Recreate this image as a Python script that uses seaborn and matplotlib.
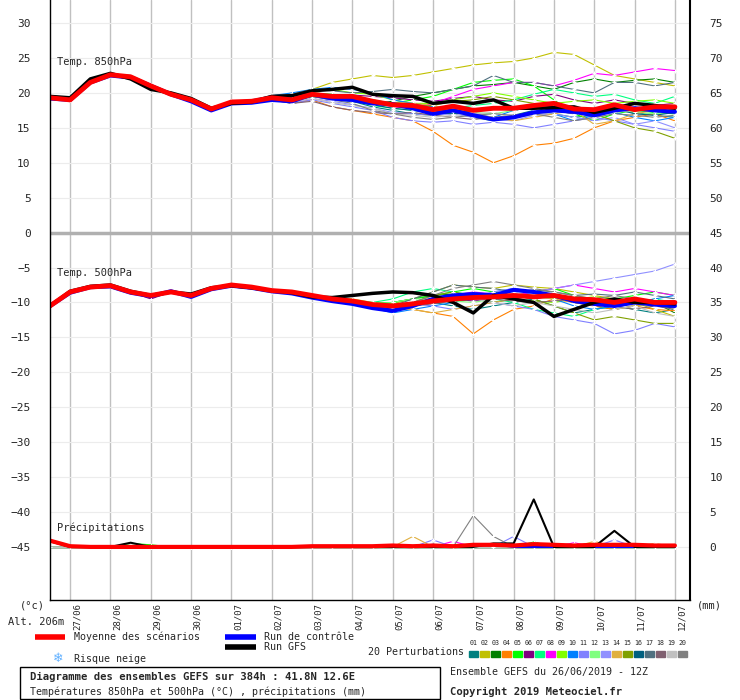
import matplotlib
matplotlib.use("Agg")
import matplotlib.pyplot as plt
import seaborn as sns
import numpy as np

hours = list(range(0, 384, 12))
dates = ["27/06", "28/06", "29/06", "30/06", "01/07", "02/07", "03/07", "04/07",
         "05/07", "06/07", "07/07", "08/07", "09/07", "10/07", "11/07", "12/07"]
date_hours = list(range(12, 384, 24))

mean850 = [19.3,19.0,21.5,22.6,22.3,21.0,19.8,19.0,17.7,18.7,18.8,19.3,19.0,19.8,19.5,19.5,
           18.8,18.3,18.2,17.6,18.1,17.5,17.8,17.8,18.2,18.5,17.7,17.6,18.3,17.6,18.0,18.0]
ctrl850 = [19.2,19.0,21.5,22.5,22.2,21.0,19.8,18.8,17.5,18.5,18.6,19.0,18.8,19.8,19.2,19.0,
           18.5,18.4,17.8,17.0,17.5,16.8,16.2,16.5,17.2,17.5,17.3,16.8,17.5,17.8,17.5,17.3]
gfs850 = [19.5,19.3,22.0,22.8,22.0,20.5,20.0,19.2,17.8,18.5,18.7,19.5,19.6,20.3,20.5,20.8,
          19.8,19.6,19.5,18.5,18.8,18.5,19.0,17.8,17.8,17.9,18.0,17.2,17.8,18.5,18.2,17.8]

mean500 = [-10.5,-8.5,-7.8,-7.6,-8.5,-9.0,-8.5,-9.0,-8.0,-7.5,-7.8,-8.3,-8.5,-9.0,-9.5,-9.8,
           -10.3,-10.5,-10.2,-9.8,-9.5,-9.3,-9.2,-9.0,-9.2,-9.0,-9.5,-9.6,-10.0,-9.5,-10.0,-10.0]
ctrl500 = [-10.5,-8.6,-7.8,-7.7,-8.6,-9.1,-8.4,-9.2,-8.1,-7.6,-7.9,-8.4,-8.7,-9.3,-9.8,-10.2,
           -10.8,-11.2,-10.5,-9.5,-9.0,-8.8,-9.0,-8.2,-8.5,-9.0,-9.8,-10.2,-10.5,-10.0,-10.3,-10.5]
gfs500 = [-10.5,-8.4,-7.7,-7.5,-8.4,-9.0,-8.5,-8.8,-7.9,-7.6,-7.9,-8.3,-8.6,-9.2,-9.3,-9.0,
          -8.7,-8.5,-8.6,-9.0,-10.0,-11.5,-9.0,-9.5,-10.0,-12.0,-11.0,-10.0,-9.5,-10.0,-10.0,-10.2]

pert_colors = ["#008080", "#c0c000", "#008000", "#ff8000", "#00ff00", "#800080", "#00ff80",
               "#ff00ff", "#80ff00", "#0080ff", "#8080ff", "#80ff80", "#9090ff", "#e0b040",
               "#80a000", "#006080", "#507080", "#806070", "#c0c0c0", "#808080"]

pert850 = [
    [19.2,19.1,21.6,22.4,22.0,20.8,19.6,19.2,17.5,18.5,18.9,19.0,18.6,19.5,19.0,18.8,18.0,17.5,17.0,16.8,17.2,16.5,16.0,16.8,17.5,17.0,16.5,16.8,17.5,17.2,16.8,16.5],
    [19.3,19.0,21.4,22.7,22.5,21.2,20.0,19.1,17.8,18.8,18.9,19.5,19.8,20.5,21.5,22.0,22.5,22.2,22.5,23.0,23.5,24.0,24.3,24.5,25.0,25.8,25.5,24.0,22.5,22.0,21.5,21.0],
    [19.2,19.0,21.6,22.5,22.4,21.0,19.7,19.1,17.6,18.6,18.7,19.2,18.9,19.6,19.2,19.3,18.5,18.8,19.5,20.0,20.5,21.0,21.2,21.5,21.0,20.5,21.5,22.0,21.5,21.8,22.0,21.5],
    [19.3,19.0,21.5,22.6,22.2,20.9,19.8,19.0,17.6,18.7,18.8,19.1,18.5,19.0,18.0,17.5,17.0,16.5,16.0,14.5,12.5,11.5,10.0,11.0,12.5,12.8,13.5,15.0,16.0,16.5,17.0,16.0],
    [19.2,19.1,21.4,22.5,22.3,21.1,19.9,19.1,17.7,18.8,18.9,19.3,19.2,20.0,19.8,19.5,19.0,18.5,19.0,19.5,20.5,21.5,21.8,22.0,21.0,19.0,17.0,16.0,17.0,17.5,17.2,17.0],
    [19.3,19.0,21.5,22.7,22.2,21.0,19.8,18.9,17.8,18.7,18.7,19.4,19.3,20.0,19.5,19.7,19.5,19.3,19.0,18.8,19.2,19.5,19.0,18.8,19.5,19.8,19.0,18.5,19.0,18.5,18.2,18.5],
    [19.2,19.0,21.5,22.6,22.3,21.0,19.6,19.0,17.7,18.6,18.8,19.2,18.8,19.5,19.3,19.0,18.2,17.8,17.5,17.2,17.8,18.2,18.5,19.0,19.8,20.5,20.0,19.5,19.8,19.0,18.5,19.5],
    [19.3,19.1,21.6,22.6,22.3,21.0,19.8,19.0,17.6,18.7,18.8,19.2,19.0,19.7,19.4,19.2,18.6,18.0,17.8,18.5,19.5,20.5,21.0,21.5,21.5,21.0,21.8,22.8,22.5,23.0,23.5,23.2],
    [19.2,19.0,21.5,22.6,22.3,21.0,19.9,19.1,17.7,18.8,18.9,19.5,19.5,20.3,20.5,20.0,19.8,19.0,18.5,18.5,19.0,19.5,20.0,19.5,19.0,18.5,18.8,19.0,18.5,18.8,19.0,18.5],
    [19.3,19.0,21.5,22.7,22.5,21.2,20.0,19.0,17.8,18.8,19.0,19.6,20.0,20.5,20.8,20.5,20.0,19.0,18.5,18.0,17.8,17.0,16.5,17.5,18.0,17.0,16.0,16.8,17.2,16.5,16.0,16.5],
    [19.2,19.0,21.5,22.5,22.2,20.9,19.7,19.0,17.6,18.6,18.7,19.0,18.5,19.0,18.5,18.0,17.5,16.5,16.0,15.8,16.0,15.5,15.8,15.5,15.0,15.5,16.0,16.5,16.0,15.5,15.0,14.5],
    [19.3,19.0,21.5,22.6,22.3,21.0,19.8,19.0,17.7,18.7,18.8,19.3,19.1,19.8,19.6,19.4,19.0,18.5,18.0,17.5,17.8,17.2,17.0,17.5,18.0,18.5,18.0,17.5,17.8,17.2,17.0,17.5],
    [19.2,19.0,21.4,22.5,22.2,21.0,19.7,18.9,17.6,18.6,18.7,19.0,18.7,19.2,18.8,18.3,17.8,17.2,17.0,16.8,17.0,16.5,16.2,16.0,16.8,17.0,16.5,16.0,16.5,15.5,16.0,15.0],
    [19.3,19.1,21.6,22.7,22.4,21.1,19.9,19.0,17.7,18.8,18.9,19.4,19.2,19.9,19.5,19.3,18.8,18.6,18.5,18.2,17.5,17.0,16.5,16.0,16.5,17.0,17.5,15.5,16.0,17.0,17.5,17.8],
    [19.2,19.0,21.5,22.6,22.3,21.0,19.8,19.1,17.8,18.7,18.9,19.3,19.0,19.7,19.2,19.0,18.5,18.2,18.0,18.2,18.8,19.0,19.5,19.0,18.5,18.0,17.5,17.0,16.0,15.0,14.5,13.5],
    [19.3,19.0,21.5,22.6,22.3,21.0,19.8,19.0,17.7,18.7,18.8,19.2,18.9,19.5,19.2,18.8,18.3,17.8,17.5,17.2,17.0,17.5,17.8,17.5,18.0,17.5,17.0,17.2,17.8,17.0,16.8,17.2],
    [19.2,19.0,21.5,22.6,22.3,21.0,19.8,19.0,17.7,18.7,18.8,19.6,19.8,20.5,20.3,20.0,20.2,20.5,20.2,20.0,20.5,21.0,22.5,21.5,21.5,21.0,20.5,20.0,21.5,21.5,21.0,21.5],
    [19.3,19.0,21.5,22.6,22.3,21.0,19.8,19.0,17.7,18.6,18.7,19.0,18.5,18.8,18.0,17.5,17.2,17.0,17.2,16.8,16.5,16.2,16.5,16.8,17.2,17.5,17.0,17.5,18.0,17.5,17.5,18.0],
    [19.2,19.0,21.5,22.6,22.3,21.0,19.8,19.0,17.7,18.7,18.8,19.1,18.8,19.2,18.6,18.2,17.8,17.0,16.8,16.5,16.8,17.0,17.2,16.5,16.8,17.2,17.5,17.0,17.2,17.5,17.8,17.5],
    [19.3,19.0,21.5,22.6,22.3,21.0,19.8,19.0,17.7,18.7,18.8,19.2,19.0,19.5,19.0,18.5,17.5,17.0,16.5,16.2,16.5,16.8,17.0,16.8,17.0,16.5,16.0,16.5,17.0,16.8,16.5,16.8],
]

pert500 = [
    [-10.5,-8.5,-7.9,-7.5,-8.6,-9.2,-8.4,-9.1,-8.0,-7.5,-7.9,-8.5,-8.8,-9.2,-9.8,-10.0,-10.5,-10.8,-10.5,-10.0,-10.5,-11.0,-10.5,-10.0,-9.5,-10.5,-11.5,-11.0,-10.5,-11.0,-11.5,-11.0],
    [-10.5,-8.5,-7.8,-7.6,-8.4,-8.9,-8.6,-9.0,-7.9,-7.5,-7.8,-8.2,-8.4,-9.0,-9.3,-9.5,-10.0,-10.2,-9.5,-8.5,-7.5,-7.8,-8.0,-7.5,-7.8,-8.0,-8.5,-9.0,-9.5,-10.0,-11.0,-12.0],
    [-10.5,-8.6,-7.8,-7.6,-8.5,-9.0,-8.5,-9.0,-8.0,-7.6,-7.8,-8.3,-8.5,-9.0,-9.5,-9.8,-10.2,-10.0,-9.5,-9.0,-8.8,-9.5,-10.0,-9.5,-9.0,-9.2,-10.0,-10.5,-11.0,-10.5,-10.0,-11.5],
    [-10.5,-8.5,-7.8,-7.5,-8.5,-9.0,-8.5,-9.0,-8.0,-7.5,-7.8,-8.4,-8.6,-9.1,-9.6,-9.9,-10.4,-10.6,-11.0,-11.5,-12.0,-14.5,-12.5,-11.0,-10.5,-9.5,-10.0,-10.5,-11.0,-10.5,-11.0,-11.2],
    [-10.5,-8.4,-7.7,-7.6,-8.4,-9.1,-8.5,-9.0,-7.9,-7.5,-7.7,-8.2,-8.5,-9.0,-9.5,-9.8,-10.2,-10.0,-9.5,-9.0,-8.5,-8.0,-8.5,-9.0,-8.5,-8.0,-9.0,-10.0,-9.5,-9.0,-8.5,-9.0],
    [-10.5,-8.5,-7.8,-7.6,-8.5,-9.5,-8.5,-9.0,-8.0,-7.5,-7.8,-8.3,-8.5,-9.0,-9.5,-10.0,-10.5,-11.0,-10.5,-10.0,-9.5,-9.8,-9.5,-9.0,-9.5,-9.0,-9.5,-9.8,-10.0,-9.5,-9.8,-10.0],
    [-10.5,-8.5,-7.8,-7.6,-8.5,-9.0,-8.4,-8.9,-8.1,-7.6,-7.9,-8.3,-8.6,-9.1,-9.5,-9.8,-10.0,-9.5,-8.5,-8.0,-8.5,-9.0,-9.5,-10.0,-11.0,-11.5,-12.0,-11.0,-10.5,-10.0,-9.5,-10.0],
    [-10.5,-8.5,-7.8,-7.6,-8.5,-9.0,-8.5,-9.0,-8.0,-7.5,-7.8,-8.3,-8.5,-9.0,-9.5,-9.8,-10.3,-10.5,-10.0,-9.5,-9.0,-8.5,-8.8,-9.0,-8.5,-8.0,-7.5,-8.0,-8.5,-8.0,-8.5,-9.0],
    [-10.5,-8.5,-7.8,-7.6,-8.5,-9.0,-8.5,-9.0,-8.0,-7.6,-7.8,-8.3,-8.5,-9.0,-9.5,-9.8,-10.3,-10.4,-10.0,-9.5,-9.2,-9.0,-9.2,-9.5,-9.8,-10.0,-9.5,-9.2,-9.5,-9.8,-10.2,-10.5],
    [-10.5,-8.5,-7.8,-7.6,-8.5,-9.0,-8.5,-9.0,-8.0,-7.5,-7.8,-8.3,-8.5,-9.0,-9.6,-10.0,-10.8,-11.5,-11.0,-10.5,-10.0,-9.5,-8.5,-8.0,-8.5,-9.5,-10.5,-11.0,-10.5,-10.0,-9.5,-9.0],
    [-10.5,-8.5,-7.8,-7.6,-8.5,-9.0,-8.5,-9.0,-8.0,-7.5,-7.8,-8.3,-8.5,-9.0,-9.5,-9.8,-10.3,-10.5,-10.2,-10.5,-11.0,-10.5,-10.0,-10.5,-11.0,-12.0,-12.5,-13.0,-14.5,-14.0,-13.0,-13.5],
    [-10.5,-8.5,-7.8,-7.6,-8.5,-9.0,-8.5,-9.0,-8.0,-7.5,-7.8,-8.3,-8.5,-9.0,-9.5,-9.8,-10.2,-10.0,-9.5,-9.5,-9.8,-10.0,-9.5,-9.0,-9.2,-9.5,-9.0,-9.5,-10.0,-9.5,-10.0,-10.5],
    [-10.5,-8.5,-7.8,-7.6,-8.5,-9.0,-8.5,-9.0,-8.0,-7.5,-7.8,-8.3,-8.5,-9.0,-9.5,-9.8,-10.3,-10.5,-10.5,-10.0,-9.5,-9.0,-8.5,-8.0,-8.5,-8.0,-7.5,-7.0,-6.5,-6.0,-5.5,-4.5],
    [-10.5,-8.5,-7.8,-7.6,-8.5,-9.0,-8.5,-9.0,-8.0,-7.5,-7.8,-8.3,-8.5,-9.0,-9.5,-9.8,-10.3,-10.8,-11.0,-11.5,-11.0,-10.5,-10.0,-9.5,-9.0,-9.5,-10.0,-10.2,-9.8,-10.5,-10.0,-10.5],
    [-10.5,-8.5,-7.8,-7.6,-8.5,-9.0,-8.5,-9.0,-8.0,-7.5,-7.8,-8.3,-8.5,-9.0,-9.5,-9.8,-10.3,-10.5,-10.0,-9.0,-8.5,-9.0,-9.5,-9.0,-9.5,-10.5,-11.5,-12.5,-12.0,-12.5,-13.0,-13.0],
    [-10.5,-8.5,-7.8,-7.6,-8.5,-9.0,-8.5,-9.0,-8.0,-7.5,-7.8,-8.3,-8.5,-9.0,-9.5,-9.8,-10.3,-10.5,-10.2,-10.0,-9.8,-9.5,-9.0,-8.8,-9.0,-9.2,-9.5,-9.8,-10.2,-10.0,-10.5,-10.8],
    [-10.5,-8.5,-7.8,-7.6,-8.5,-9.0,-8.5,-9.0,-8.0,-7.5,-7.8,-8.3,-8.5,-9.0,-9.5,-9.8,-10.3,-10.5,-9.5,-8.5,-7.5,-7.8,-8.0,-8.5,-8.2,-8.5,-9.0,-8.8,-9.0,-8.5,-9.0,-9.5],
    [-10.5,-8.5,-7.8,-7.6,-8.5,-9.0,-8.5,-9.0,-8.0,-7.5,-7.8,-8.3,-8.5,-9.0,-9.5,-9.8,-10.3,-10.5,-10.5,-10.2,-9.8,-9.5,-9.5,-9.8,-10.0,-9.8,-9.5,-10.0,-10.5,-11.0,-10.5,-11.0],
    [-10.5,-8.5,-7.8,-7.6,-8.5,-9.0,-8.5,-9.0,-8.0,-7.5,-7.8,-8.3,-8.5,-9.0,-9.5,-9.8,-10.3,-10.5,-10.0,-9.5,-9.0,-9.5,-10.0,-10.5,-10.0,-10.5,-11.0,-11.5,-11.0,-10.5,-11.5,-12.0],
    [-10.5,-8.5,-7.8,-7.6,-8.5,-9.0,-8.5,-9.0,-8.0,-7.5,-7.8,-8.3,-8.5,-9.0,-9.5,-9.8,-10.3,-10.5,-10.0,-9.0,-8.0,-7.5,-7.0,-7.5,-8.0,-8.5,-9.0,-9.5,-9.0,-9.5,-10.0,-10.5],
]

# precipitation (mm), zeros for dry members
precip_mean = [0.9,0.1,0,0,0,0,0,0,0,0,0,0,0,0.1,0.1,0.1,0.1,0.2,0.1,0.2,0.1,0.3,0.3,0.2,0.4,0.3,0.2,0.3,0.3,0.3,0.2,0.2]
precip_ctrl = [0.9,0,0,0,0,0,0,0,0,0,0,0,0,0,0,0,0,0,0,0.3,0,0.2,0.4,0,0,0,0,0,0,0,0,0]
precip_gfs = [0.8,0,0,0,0.6,0,0,0,0,0,0,0,0,0,0,0,0,0,0,0,0,0,0.5,0.5,6.8,0,0,0,2.3,0,0,0]
precip_pert = {
    20: [0.9,0,0,0,0,0,0,0,0,0,0,0,0,0,0,0,0,0,0,0,0,4.5,1.5,0,0,0,0,0,0,0,0,0],
    14: [0.9,0,0,0,0,0,0,0,0,0,0,0,0,0,0,0,0,0,1.5,0,0,0,0,0,0,0,0,0.8,0,0,0.5,0],
    11: [0.9,0,0,0,0,0,0,0,0,0,0,0,0,0,0,0,0,0,0,1.0,0,0,0,1.5,0,0,0,0,1.0,0,0,0],
    5: [0.9,0,0,0,0.5,0.3,0,0,0,0,0,0,0,0,0,0,0,0,0,0,0,0,0,0,0.7,0,0,0.5,0,0,0,0],
    8: [0.9,0,0,0,0,0,0,0,0,0,0,0,0,0,0,0,0,0,0,0,0.8,0,0,0,0,0,0.6,0,0,0,0,0],
}

sns.set_style("white")
plt.rcParams["font.family"] = ["DejaVu Sans Mono"]
plt.rcParams["font.size"] = 7.5

fig = plt.figure(figsize=(7.4, 7.0), dpi=100)
ax = fig.add_axes([50/740, 100/700, 640/740, 600/700])
ax.set_xlim(0, 381)
ax.set_ylim(-52.6, 33.3)

for d in date_hours:
    ax.axvline(d, color="#c0c0c0", lw=1, zorder=0)
for v in range(-45, 35, 5):
    ax.axhline(v, color="#ececec", lw=0.8, zorder=0)
ax.axhline(0, color="#b0b0b0", lw=2.5, zorder=0)

hrs = np.array(hours)
for i, c in enumerate(pert_colors):
    kw = dict(color=c, lw=0.8, marker="+", markersize=3, ax=ax, legend=False)
    sns.lineplot(x=hrs, y=pert850[i], **kw)
    sns.lineplot(x=hrs, y=pert500[i], **kw)
    pr = precip_pert.get(i + 1, [0.0] * len(hours))
    sns.lineplot(x=hrs, y=np.array(pr) - 45, **kw)

sns.lineplot(x=hrs, y=ctrl850, color="#0000ff", lw=3, ax=ax)
sns.lineplot(x=hrs, y=ctrl500, color="#0000ff", lw=3, ax=ax)
sns.lineplot(x=hrs, y=np.array(precip_ctrl) - 45, color="#0000ff", lw=1.5, ax=ax)
sns.lineplot(x=hrs, y=gfs850, color="black", lw=2.5, ax=ax)
sns.lineplot(x=hrs, y=gfs500, color="black", lw=2.5, ax=ax)
sns.lineplot(x=hrs, y=np.array(precip_gfs) - 45, color="black", lw=1.5, ax=ax)
sns.lineplot(x=hrs, y=mean850, color="#ff0000", lw=3.5, ax=ax)
sns.lineplot(x=hrs, y=mean500, color="#ff0000", lw=3.5, ax=ax)
sns.lineplot(x=hrs, y=np.array(precip_mean) - 45, color="#ff0000", lw=3, ax=ax)

ax.set_yticks(range(-45, 35, 5))
ax.tick_params(axis="y", length=0, pad=14, labelsize=8)
ax.set_xticks([d + 4 for d in date_hours])
ax.set_xticklabels(dates, rotation=90, fontsize=6.5, va="top")
ax.tick_params(axis="x", length=0, pad=2)
ax.spines["top"].set_visible(False)
for s in ["left", "bottom", "right"]:
    ax.spines[s].set_color("black")
    ax.spines[s].set_linewidth(1)
ax.spines["right"].set_linewidth(1.5)
ax.set_xlabel("")
ax.set_ylabel("")

ax2 = ax.twinx()
ax2.set_ylim(-52.6 + 45, 33.3 + 45)
ax2.set_yticks(range(0, 80, 5))
ax2.tick_params(axis="y", length=0, pad=14, labelsize=8)
for s in ["left", "top", "bottom", "right"]:
    ax2.spines[s].set_visible(False)

ax.text(4, 24, "Temp. 850hPa", fontsize=7.5)
ax.text(4, -6.2, "Temp. 500hPa", fontsize=7.5)
ax.text(4, -42.7, "Précipitations", fontsize=7.5)

# footer
fig.text(20/740, 1 - 606/700, "(°c)", fontsize=7.5, va="center")
fig.text(8/740, 1 - 622/700, "Alt. 206m", fontsize=7.5, va="center")
fig.text(697/740, 1 - 606/700, "(mm)", fontsize=7.5, va="center")
fig.add_artist(plt.Line2D([35/740, 65/740], [1 - 637/700] * 2, color="red", lw=4, solid_capstyle="butt"))
fig.text(74/740, 1 - 637/700, "Moyenne des scénarios", fontsize=7.2, va="center")
fig.add_artist(plt.Line2D([225/740, 256/740], [1 - 637/700] * 2, color="blue", lw=4, solid_capstyle="butt"))
fig.text(264/740, 1 - 637/700, "Run de contrôle", fontsize=7.2, va="center")
fig.add_artist(plt.Line2D([225/740, 256/740], [1 - 647/700] * 2, color="black", lw=4, solid_capstyle="butt"))
fig.text(264/740, 1 - 647/700, "Run GFS", fontsize=7.2, va="center")
fig.text(53/740, 1 - 659/700, "❄", fontsize=9, va="center", color="#60b0ff", family=["DejaVu Sans"])
fig.text(74/740, 1 - 659/700, "Risque neige", fontsize=7.2, va="center")
fig.text(368/740, 1 - 652/700, "20 Perturbations", fontsize=7.2, va="center")
for i, c in enumerate(pert_colors):
    x0 = (469 + i * 11) / 740
    fig.add_artist(plt.Rectangle((x0, 1 - 657/700), 9/740, 6/700, color=c))
    fig.text(x0 + 4.5/740, 1 - 643/700, f"{i+1:02d}", fontsize=4.8, ha="center", va="center")
fig.add_artist(plt.Rectangle((20/740, 1 - 699/700), 420/740, 32/700, fill=False, ec="black", lw=1))
fig.text(30/740, 1 - 677/700, "Diagramme des ensembles GEFS sur 384h : 41.8N 12.6E",
         fontsize=7.6, weight="bold", va="center")
fig.text(30/740, 1 - 692/700, "Températures 850hPa et 500hPa (°C) , précipitations (mm)",
         fontsize=7.2, va="center")
fig.text(450/740, 1 - 672/700, "Ensemble GEFS du 26/06/2019 - 12Z", fontsize=7.2, va="center")
fig.text(450/740, 1 - 692/700, "Copyright 2019 Meteociel.fr", fontsize=7.6, weight="bold", va="center")

fig.savefig("out.png", dpi=100)
